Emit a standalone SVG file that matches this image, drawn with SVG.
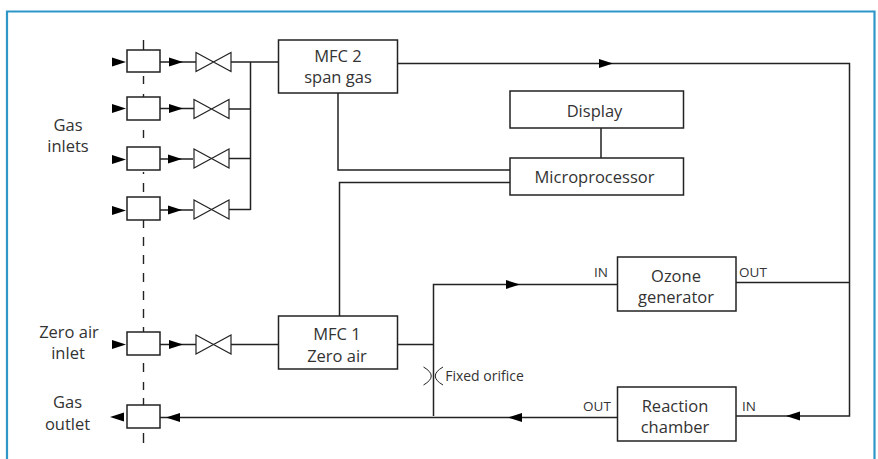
<svg xmlns="http://www.w3.org/2000/svg" width="878" height="459" viewBox="0 0 878 459">
<style>
.b{fill:#fff;stroke:#222;stroke-width:1.5}
.v{fill:#fff;stroke:#222;stroke-width:1.2}
.l{fill:none;stroke:#222;stroke-width:1.5}
.d{fill:none;stroke:#222;stroke-width:1.4}
.o{fill:none;stroke:#222;stroke-width:1}
.a{fill:#000;stroke:none}
text{font-family:"Open Sans","Noto Sans","Liberation Sans",sans-serif;fill:#333;text-anchor:middle}
.t{font-size:16.5px}
.s{font-size:14px}
.u{font-size:13.5px}
</style>
<defs>
<path id="ar" class="a" d="M0 0L-14 -4.5V4.500Z"/>
<path id="al" class="a" d="M0 0L14 -4.5V4.500Z"/>
<path id="vv" class="v" d="M0 -9.500L35 9.500V-9.500L0 9.500Z"/>
</defs>
<path id="frame" fill="none" stroke="#2f96c8" stroke-width="2.2" d="M7 459V11.500H874.500V459"/>
<g id="connectors">
<path class="d" d="M143.500 40V50M143.500 76V84M143.500 94V97M143.500 130V138M143.500 172V174M143.500 183V192M143.500 220V228M143.500 237V246M143.500 255V264M143.500 273V282M143.500 291V300M143.500 309V318M143.500 327V332M143.500 363V372M143.500 382V390M143.500 398V405M143.500 433V443"/>
<path class="l" d="M160 62H196M160 108.500H194M160 159H193M160 210H193M160 344.500H196"/>
<path class="l" d="M231 62H278M229 109H250.500M229 158.500H250.500M229 209.500H250.500M250.500 62V210"/>
<path class="l" d="M231 344.500H278M397 344.500H433"/>
<path class="l" d="M397 63.500H849.500V416H736M736 282.500H849.500"/>
<path class="l" d="M338 93V170H510M339.500 316V182.500H510M601 128V158"/>
<path class="l" d="M617 284.500H433.500V416"/>
<path class="l" d="M160 417.500H617"/>
<path class="o" d="M423.500 367Q439 376 423.500 385M443 367Q427.500 376 443 385"/>
<use href="#ar" x="126" y="62"/><use href="#ar" x="126" y="108.500"/><use href="#ar" x="126" y="159.500"/><use href="#ar" x="126" y="210.500"/><use href="#ar" x="126" y="344.500"/>
<use href="#ar" x="183" y="62"/><use href="#ar" x="183" y="108.500"/><use href="#ar" x="182" y="159"/><use href="#ar" x="182" y="210"/><use href="#ar" x="183" y="344.500"/>
<use href="#al" x="110" y="417"/><use href="#al" x="166" y="417.500"/>
<use href="#al" x="508" y="417.500"/><use href="#al" x="786" y="416"/>
<use href="#ar" x="520" y="284.500"/><use href="#ar" x="613" y="63.500"/>
</g>
<g id="inlet1"><rect class="b" x="127" y="50" width="33" height="22"/></g>
<g id="inlet2"><rect class="b" x="127" y="97" width="33" height="23"/></g>
<g id="inlet3"><rect class="b" x="127" y="147" width="33" height="23"/></g>
<g id="inlet4"><rect class="b" x="127" y="197" width="33" height="23"/></g>
<g id="zero-inlet"><rect class="b" x="127" y="332" width="33" height="23"/></g>
<g id="gas-outlet"><rect class="b" x="127" y="405" width="33" height="23"/></g>
<g id="valve1"><use href="#vv" x="196" y="62"/></g>
<g id="valve2"><use href="#vv" x="194" y="109"/></g>
<g id="valve3"><use href="#vv" x="194" y="158.500"/></g>
<g id="valve4"><use href="#vv" x="194" y="209.500"/></g>
<g id="valve5"><use href="#vv" x="196" y="344.500"/></g>
<g id="mfc2"><rect class="b" x="278.500" y="40" width="119" height="53"/><text class="t" x="338" y="62">MFC 2</text><text class="t" x="338" y="83">span gas</text></g>
<g id="display"><rect class="b" x="510" y="91" width="173.500" height="37"/><text class="t" x="594.500" y="117">Display</text></g>
<g id="microprocessor"><rect class="b" x="510" y="158" width="173.500" height="37"/><text class="t" x="594.500" y="183">Microprocessor</text></g>
<g id="mfc1"><rect class="b" x="278.500" y="316" width="119" height="53"/><text class="t" x="337" y="340">MFC 1</text><text class="t" x="337" y="362">Zero air</text></g>
<g id="ozone"><rect class="b" x="617.500" y="257" width="118.500" height="54"/><text class="t" x="676" y="282">Ozone</text><text class="t" x="676" y="303">generator</text></g>
<g id="reaction"><rect class="b" x="617.500" y="387" width="118.500" height="54"/><text class="t" x="675" y="412">Reaction</text><text class="t" x="675" y="433">chamber</text></g>
<g id="labels">
<text class="t" x="68" y="131">Gas</text><text class="t" x="68" y="152">inlets</text>
<text class="t" x="69" y="338">Zero air</text><text class="t" x="68" y="359">inlet</text>
<text class="t" x="67.500" y="408">Gas</text><text class="t" x="67.500" y="430">outlet</text>
<text class="s" x="484.500" y="381">Fixed orifice</text>
<text class="u" x="601" y="277">IN</text><text class="u" x="753" y="277">OUT</text>
<text class="u" x="597" y="411">OUT</text><text class="u" x="749" y="411">IN</text>
</g>
</svg>
